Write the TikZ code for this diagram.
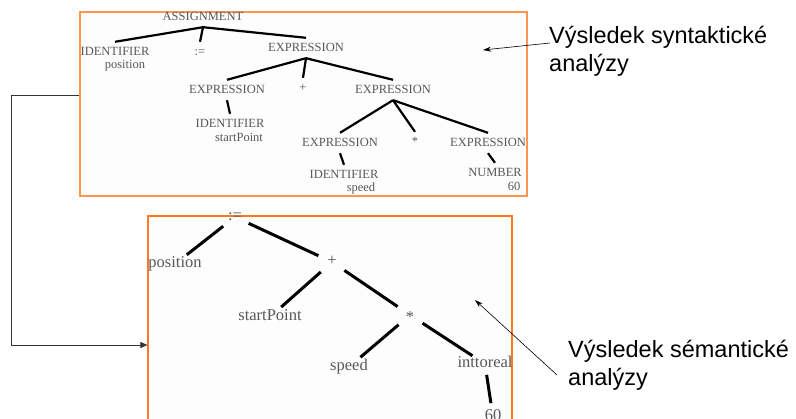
\documentclass[tikz,border=0pt]{standalone}
\usepackage{fontspec}
\setmainfont{Liberation Serif}
\newfontfamily\notefont{Liberation Sans}
\usetikzlibrary{arrows.meta}

\definecolor{synframe}{RGB}{255,150,80}
\definecolor{semframe}{RGB}{255,122,30}
\definecolor{paper}{RGB}{253,253,253}
\definecolor{termgray}{RGB}{88,88,88}

\tikzset{
  treebox/.style={fill=paper, line width=1.1pt, inner sep=0pt},
  synterm/.style={text=termgray, inner xsep=0pt, inner ysep=6pt,
    text height=8pt, text depth=0pt, font=\fontsize{12.5}{14}\selectfont},
  semterm/.style={text=termgray, inner sep=0pt,
    text height=7.5pt, text depth=0pt, font=\fontsize{16.5}{18}\selectfont},
  synedge/.style={line width=2.2pt},
  semedge/.style={line width=3pt, shorten <=15pt, shorten >=15pt},
  note/.style={font=\notefont\fontsize{23.5}{28}\selectfont, align=left, inner sep=0pt},
  pointer/.style={line width=0.6pt, -{Stealth[length=8pt,width=5pt]}},
  link/.style={line width=0.8pt, draw=black!80, -{Triangle[length=7pt,width=6pt]}}
}

\begin{document}
\begin{tikzpicture}[x=1pt, y=-1pt]
  \useasboundingbox (0,0) rectangle (796,419);

  % frames
  \node[treebox, draw=synframe, minimum width=447pt, minimum height=184pt] (synbox) at (303.5,104) {};
  \node[treebox, draw=semframe, minimum width=364pt, minimum height=214pt] (sembox) at (330,323) {};

  % parse tree
  \node[synterm] (asg) at (203,17) {ASSIGNMENT};
  \node[synterm] (idf1) at (115,52) {IDENTIFIER};
  \node[synterm] (colon1) at (200,52) {:=};
  \node[synterm] (expr1) at (306,48) {EXPRESSION};
  \node[synterm] (expr2) at (227,90) {EXPRESSION};
  \node[synterm] (plus1) at (303,88) {+};
  \node[synterm] (expr3) at (393,90) {EXPRESSION};
  \node[synterm] (idf2) at (230,124) {IDENTIFIER};
  \node[synterm] (expr4) at (340,143) {EXPRESSION};
  \node[synterm] (star1) at (415,142) {*};
  \node[synterm] (expr5) at (488,143) {EXPRESSION};
  \node[synterm] (idf3) at (344,175) {IDENTIFIER};
  \node[synterm] (num) at (495,173) {NUMBER};

  \node[synterm] (lex1) at (125,65) {position};
  \node[synterm] (lex2) at (239,138) {startPoint};
  \node[synterm] (lex3) at (361,188) {speed};
  \node[synterm] (lex4) at (514,187) {60};

  \draw[synedge] (asg.south) -- (idf1.north);
  \draw[synedge] (asg.south) -- (colon1.north);
  \draw[synedge] (asg.south) -- (expr1.north);
  \draw[synedge] (expr1.south) -- (expr2.north);
  \draw[synedge] (expr1.south) -- (plus1.north);
  \draw[synedge] (expr1.south) -- (expr3.north);
  \draw[synedge] (expr2.south) -- (idf2.north);
  \draw[synedge] (expr3.south) -- (expr4.north);
  \draw[synedge] (expr3.south) -- (star1.north);
  \draw[synedge] (expr3.south) -- (expr5.north);
  \draw[synedge] (expr4.south) -- (idf3.north);
  \draw[synedge] (expr5.south) -- (num.north);

  % syntax tree after semantic analysis
  \node[semterm] (asn) at (235,217) {:=};
  \node[semterm] (pos) at (175,264) {position};
  \node[semterm] (plus2) at (332,262) {+};
  \node[semterm] (stp) at (270,317) {startPoint};
  \node[semterm] (star2) at (410,315) {\raisebox{-4pt}{*}};
  \node[semterm] (spd) at (349,367) {speed};
  \node[semterm] (conv) at (485,364) {inttoreal};
  \node[semterm] (sixty) at (493,417) {60};

  \draw[semedge] (asn.center) -- (pos.center);
  \draw[semedge] (asn.center) -- (plus2.center);
  \draw[semedge] (plus2.center) -- (stp.center);
  \draw[semedge] (plus2.center) -- (star2.center);
  \draw[semedge] (star2.center) -- (spd.center);
  \draw[semedge] (star2.center) -- (conv.center);
  \draw[semedge, shorten <=11pt, shorten >=14pt] (conv.center) -- (sixty.center);

  % notes
  \node[note, anchor=north west] (synnote) at (549,26) {Výsledek syntaktické\\analýzy};
  \node[note, anchor=north west] (semnote) at (568,340) {Výsledek sémantické\\analýzy};
  \coordinate (syntip) at (483,50);
  \coordinate (semtip) at (475,300);
  \draw[pointer] ([shift={(1,17)}]synnote.north west) -- (syntip);
  \draw[pointer] ([shift={(-11,35)}]semnote.north west) -- (semtip);

  % link between the two frames
  \draw[link] ([yshift=9pt]synbox.west) -- ++(-68,0) |- ([yshift=-22pt]sembox.west);
\end{tikzpicture}
\end{document}
